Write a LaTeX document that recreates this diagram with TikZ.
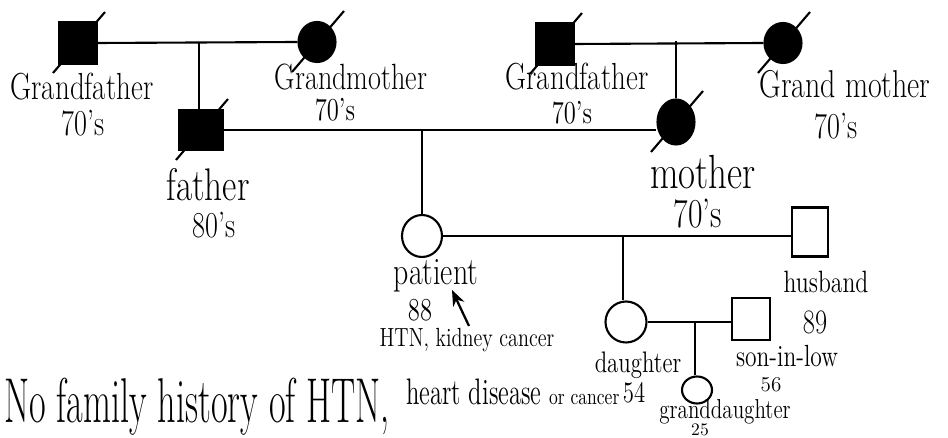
\documentclass[tikz,border=0pt]{standalone}
\usepackage{graphicx}
\usetikzlibrary{shapes.geometric,calc,arrows.meta}
\newcommand\hwtxt[3][1.3]{{\fontsize{#2}{#2}\selectfont\scalebox{1}[#1]{#3}}}
\begin{document}
\begin{tikzpicture}[x=0.02cm,y=-0.02cm,line width=1.2pt,
  male/.style={draw,rectangle,inner sep=0pt,minimum width=0.74cm,minimum height=0.82cm},
  female/.style={draw,ellipse,inner sep=0pt,minimum width=0.74cm,minimum height=0.8cm},
  dead/.style={fill=black},
  slash/.style={line width=1.2pt},
  lbl/.style={inner sep=0pt},
  arr/.style={line width=1.3pt,-{Stealth[length=9pt,width=7pt]}}]
\useasboundingbox (0,0) rectangle (948,438);

% generation 1
\node[male,dead] (gfp) at (78,43) {};
\node[female,dead] (gmp) at (317,42) {};
\node[male,dead] (gfm) at (555,44) {};
\node[female,dead] (gmm) at (783,43) {};
% generation 2
\node[male,dead,minimum width=0.86cm,minimum height=0.8cm] (fa) at (201,130) {};
\node[female,dead,minimum height=0.9cm] (mo) at (676,122) {};
% generation 3
\node[female,minimum width=0.8cm,minimum height=0.84cm] (pt) at (422,236) {};
\node[male,minimum width=0.72cm,minimum height=0.98cm] (hu) at (810,232) {};
% generation 4
\node[female,minimum width=0.82cm,minimum height=0.82cm] (da) at (626,322) {};
\node[male,minimum width=0.76cm,minimum height=0.84cm] (sl) at (751,319) {};
\node[female,minimum width=0.6cm,minimum height=0.54cm] (gd) at (697,390) {};

% slashes (deceased)
\foreach \n in {gfp,gmp,gfm,gmm,fa,mo}{
  \draw[slash] ($(\n)+(-25,30)$) -- ($(\n)+(27,-31)$);
}

% marriage and descent lines
\draw (gfp.east) -- (gmp.west);
\coordinate (c1) at (199,43);
\draw (c1) -- (c1 |- fa.north);
\draw (gfm.east) -- (gmm.west);
\coordinate (c2) at (676,41);
\draw (c2) -- (mo.north);
\draw (fa.east) -- (fa.east -| mo.west);
\coordinate (c3) at (422,129);
\draw (c3) -- (pt.north);
\draw (pt.east) -- (pt.east -| hu.west);
\coordinate (c4) at (623,235);
\draw (c4) -- (c4 |- da.north);
\draw (da.east) -- (da.east -| sl.west);
\coordinate (c5) at (695,322);
\draw (c5) -- (c5 |- gd.north);

% labels
\node[lbl] (l1) at (82,87) {\hwtxt{16.5}{Grandfather}};
\node[lbl] (l1a) at (83,123) {\hwtxt{16}{70's}};
\node[lbl] (l2) at (351,77) {\hwtxt{16}{Grandmother}};
\node[lbl] (l2a) at (335,110) {\hwtxt{14}{70's}};
\node[lbl] (l3) at (577,77) {\hwtxt{16.5}{Grandfather}};
\node[lbl] (l3a) at (572,113) {\hwtxt{14}{70's}};
\node[lbl] (l4) at (845,84) {\hwtxt{17}{Grand mother}};
\node[lbl] (l4a) at (836,126) {\hwtxt{16}{70's}};
\node[lbl] (l5) at (208,185) {\hwtxt{20}{father}};
\node[lbl] (l5a) at (214,225) {\hwtxt{16}{80's}};
\node[lbl] (l6) at (703,172) {\hwtxt{21}{mother}};
\node[lbl] (l6a) at (698,214) {\hwtxt{18}{70's}};
\node[lbl] (l7) at (436,276) {\hwtxt{17}{patient}};
\node[lbl] (l7a) at (420,310) {\hwtxt{14}{88}};
\node[lbl] (l7b) at (467,340) {\hwtxt{11.5}{HTN, kidney cancer}};
\node[lbl] (l8) at (826,282) {\hwtxt{13.5}{husband}};
\node[lbl] (l8a) at (815,322) {\hwtxt{15}{89}};
\node[lbl] (l9) at (638,365) {\hwtxt{13}{daughter}};
\node[lbl] (l9a) at (634,393) {\hwtxt{13}{54}};
\node[lbl] (l10) at (787,356) {\hwtxt{13.4}{son-in-low}};
\node[lbl] (l10a) at (771,385) {\hwtxt[1]{12}{56}};
\node[lbl] (l11) at (725,412) {\hwtxt{12}{granddaughter}};
\node[lbl] (l11a) at (700,430) {\hwtxt[1]{10}{25}};

% arrow to patient
\coordinate (a0) at (469,326);
\coordinate (a1) at (452,290);
\draw[arr] (a0) -- (a1);

% bottom note
\node[lbl,anchor=base west] (n1) at (3,423) {\hwtxt[1.75]{20.6}{No family history of HTN,}};
\node[lbl,anchor=base west] (n2) at (405,405) {\hwtxt[1.5]{14}{heart disease}};
\node[lbl,anchor=base west] (n3) at (548,405) {\hwtxt[1.3]{10}{or cancer}};
\end{tikzpicture}
\end{document}
